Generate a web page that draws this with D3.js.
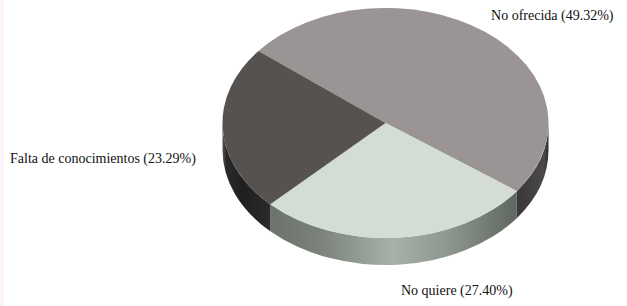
<!DOCTYPE html>
<html><head><meta charset="utf-8">
<script src="https://cdn.jsdelivr.net/npm/d3@7"></script>
<style>html,body{margin:0;padding:0;background:#fff;}svg{display:block;}</style>
</head><body>
<svg id="chart" width="627" height="306"></svg>
<script>
const categories = ["No ofrecida", "No quiere", "Falta de conocimientos"];
const values = [49.32, 27.40, 23.29];
const labels = ["No ofrecida (49.32%)", "No quiere (27.40%)", "Falta de conocimientos (23.29%)"];
const topColors = ["#9a9494", "#d3ddd6", "#555250"];
const sideStops = [
  [[0, "#2a2828"], [0.8, "#2c2a2b"], [0.93, "#3e3c3d"], [0.985, "#4b494a"], [1, "#333132"]],
  [[0, "#5a625b"], [0.15, "#6b736c"], [0.3, "#7a827b"], [0.52, "#a8b1a9"], [0.7, "#8d968e"], [0.9, "#5f675f"], [1, "#555c56"]],
  [[0, "#555555"], [0.012, "#2a2a2a"], [0.06, "#1f1f1f"], [0.15, "#2b2b2b"], [1, "#2b2b2b"]]
];

const W = 627, H = 306;
const cx = 385.5, cy = 123, rx = 163, ry = 115, depth = 27;
const svg = d3.select("#chart");
svg.append("rect").attr("x", 0).attr("y", 0).attr("width", 4).attr("height", H).attr("fill", "#fdf3fa");

const defs = svg.append("defs");
sideStops.forEach((stops, i) => {
  const g = defs.append("linearGradient").attr("id", "side" + i)
    .attr("gradientUnits", "userSpaceOnUse")
    .attr("x1", cx - rx).attr("x2", cx + rx).attr("y1", 0).attr("y2", 0);
  stops.forEach(s => g.append("stop").attr("offset", s[0]).attr("stop-color", s[1]));
});

const startDeg = -51.2;
const pie = d3.pie().sort(null).startAngle(startDeg * Math.PI / 180).endAngle(startDeg * Math.PI / 180 + 2 * Math.PI);
const arcs = pie(values);

const P = (a, dy = 0) => [cx + rx * Math.cos(a), cy + ry * Math.sin(a) + dy];

function topPath(a0, a1) {
  const p0 = P(a0), p1 = P(a1);
  const large = (a1 - a0) > Math.PI ? 1 : 0;
  return `M${cx},${cy}L${p0[0]},${p0[1]}A${rx},${ry} 0 ${large} 1 ${p1[0]},${p1[1]}Z`;
}
function sidePath(s0, s1) {
  const p0 = P(s0), p1 = P(s1), q1 = P(s1, depth), q0 = P(s0, depth);
  return `M${p0[0]},${p0[1]}A${rx},${ry} 0 0 1 ${p1[0]},${p1[1]}L${q1[0]},${q1[1]}A${rx},${ry} 0 0 0 ${q0[0]},${q0[1]}Z`;
}

const gSide = svg.append("g"), gTop = svg.append("g");
arcs.forEach((d, i) => {
  const a0 = d.startAngle - Math.PI / 2, a1 = d.endAngle - Math.PI / 2;
  [0, 2 * Math.PI, -2 * Math.PI].forEach(off => {
    const s0 = Math.max(a0, off), s1 = Math.min(a1, off + Math.PI);
    if (s1 > s0 + 1e-6) {
      gSide.append("path").attr("d", sidePath(s0, s1)).attr("fill", `url(#side${i})`);
    }
  });
  gTop.append("path").attr("d", topPath(a0, a1)).attr("fill", topColors[i]);
});

const labelPos = [
  {x: cx + rx + 65, y: 20, anchor: "end"},
  {x: cx + 15.5, y: cy + ry + depth + 30, anchor: "start"},
  {x: 10, y: cy + 40, anchor: "start"}
];
svg.append("g").selectAll("text").data(labels).join("text")
  .attr("x", (d, i) => labelPos[i].x)
  .attr("y", (d, i) => labelPos[i].y)
  .attr("text-anchor", (d, i) => labelPos[i].anchor)
  .attr("font-family", "Liberation Serif")
  .attr("font-size", 14)
  .attr("fill", "#111")
  .text(d => d);
</script>
</body></html>
